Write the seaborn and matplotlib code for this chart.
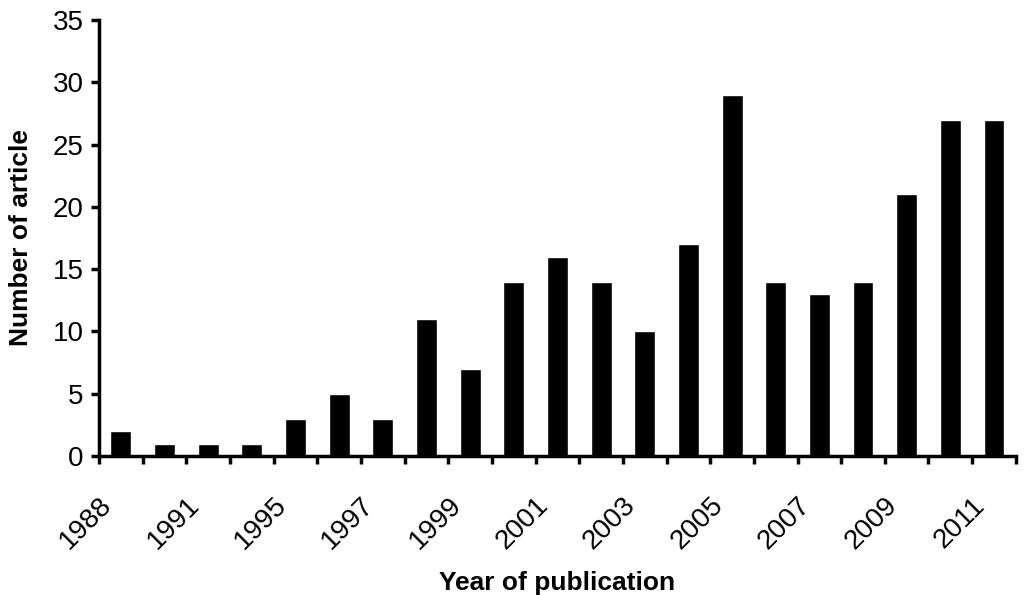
import numpy as np
import pandas as pd
import matplotlib
matplotlib.use('Agg')
import matplotlib.pyplot as plt
import matplotlib.transforms as mtransforms
import seaborn as sns

# publication years (every other one is labelled on the axis)
years = ['1988', '1990', '1991', '1993', '1995', '1996', '1997', '1998', '1999', '2000', '2001',
         '2002', '2003', '2004', '2005', '2006', '2007', '2008', '2009', '2010', '2011']
articles = [2, 1, 1, 1, 3, 5, 3, 11, 7, 14, 16, 14, 10, 17, 29, 14, 13, 14, 21, 27, 27]

df = pd.DataFrame({'year': years, 'n': articles})

sns.set_style('white')
plt.rcParams['font.family'] = ['Liberation Sans', 'DejaVu Sans']
plt.rcParams['text.color'] = 'black'
plt.rcParams['axes.labelcolor'] = 'black'
plt.rcParams['xtick.color'] = 'black'
plt.rcParams['ytick.color'] = 'black'

fig = plt.figure(figsize=(10.24, 5.95), dpi=100)
ax = fig.add_axes([0.0967, 0.2336, 0.8953, 0.7328])

sns.barplot(data=df, x='year', y='n', color='black', width=0.48, saturation=1, ax=ax)

ax.set_xlim(-0.5, len(years) - 0.5)
ax.set_ylim(0, 35)
ax.set_yticks(np.arange(0, 36, 5))
ax.tick_params(axis='y', labelsize=20, length=6, width=2.5, direction='out', left=True, pad=5)

# tick marks between categories, labels on every other category
ax.set_xticks(np.arange(0, len(years), 2))
ax.set_xticklabels(years[::2], rotation=45, ha='right', va='top', rotation_mode='anchor')
ax.set_xticks(np.arange(-0.5, len(years), 1), minor=True)
ax.tick_params(axis='x', which='major', length=0, labelsize=20, pad=26)
ax.tick_params(axis='x', which='minor', length=6, width=2.5, direction='out', bottom=True)
offset = mtransforms.ScaledTranslation(-22 / 100, 0, fig.dpi_scale_trans)
for lab in ax.get_xticklabels():
    lab.set_transform(lab.get_transform() + offset)

for side in ['top', 'right']:
    ax.spines[side].set_visible(False)
for side in ['left', 'bottom']:
    ax.spines[side].set_linewidth(2.5)
    ax.spines[side].set_color('black')

ax.set_xlabel('Year of publication', fontsize=19, fontweight='bold', labelpad=12)
ax.set_ylabel('Number of article', fontsize=19, fontweight='bold', labelpad=14)

fig.savefig('out.png', dpi=100)
